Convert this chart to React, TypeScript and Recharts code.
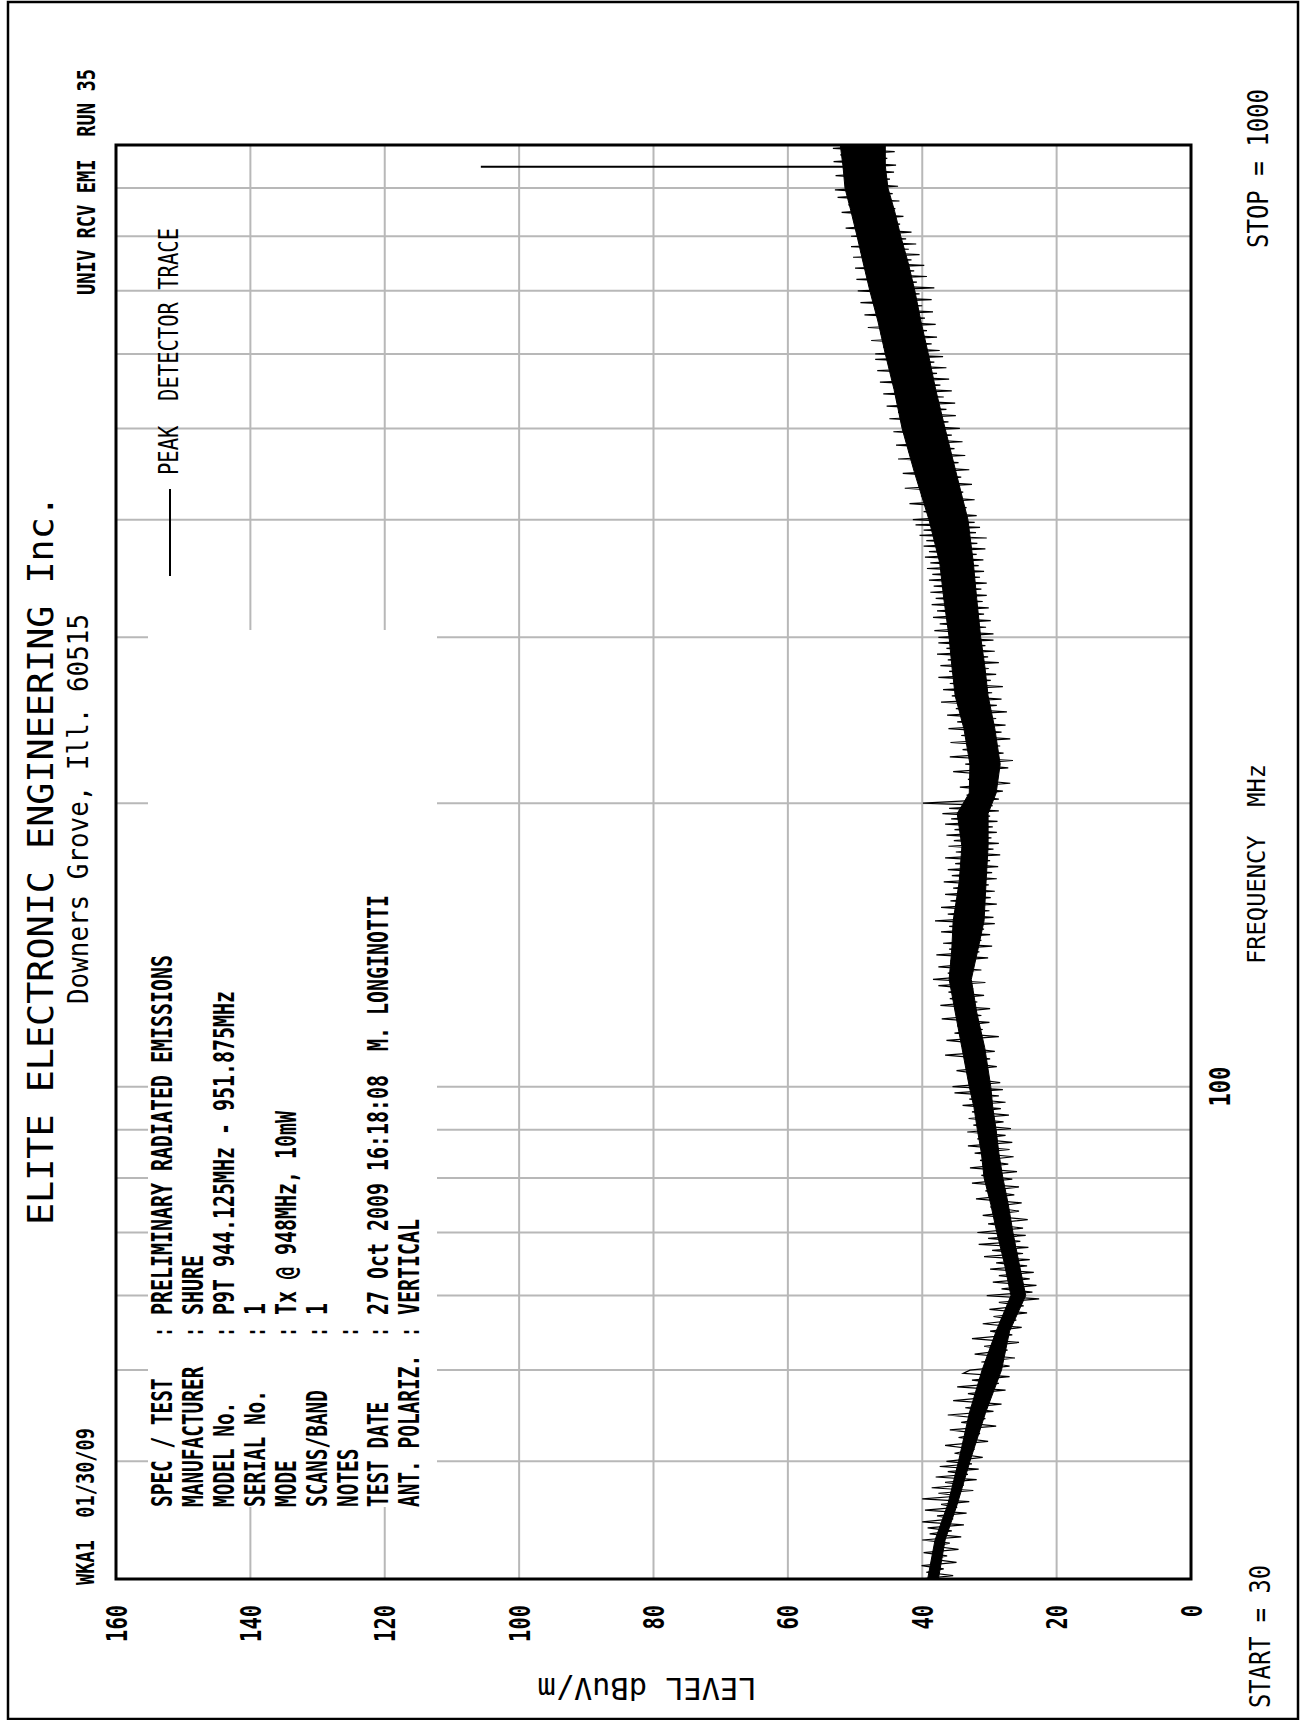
import React from 'react';
import {
  ComposedChart,
  Area,
  Line,
  XAxis,
  YAxis,
  CartesianGrid,
} from 'recharts';

// frequency (MHz) sample points and the solid core of the peak trace (dBuV/m)
const coreFreq = [30, 33, 36, 40, 45, 50, 55, 60, 65, 70, 75, 80, 85, 90, 95, 100, 110, 120, 130, 140, 150, 165, 180, 195, 205, 220, 240, 260, 280, 300, 330, 360, 400, 450, 500, 550, 600, 650, 700, 750, 800, 850, 900, 950, 1000];
const coreLow = [37.6, 36.6, 34.8, 32.9, 30.6, 28.2, 27.0, 24.6, 25.6, 26.5, 27.2, 28.0, 28.6, 29.0, 29.5, 29.8, 30.7, 31.9, 32.7, 31.7, 30.8, 30.5, 30.2, 30.2, 29.0, 28.4, 29.2, 30.2, 30.7, 31.3, 31.9, 32.4, 33.2, 35.0, 36.6, 38.0, 39.1, 40.2, 41.1, 42.1, 43.2, 44.1, 45.1, 45.5, 45.5];
const coreHigh = [39.2, 38.1, 36.2, 34.6, 33.0, 31.1, 29.0, 26.8, 27.8, 28.9, 29.8, 30.8, 31.2, 31.8, 32.3, 33.0, 34.1, 35.1, 36.0, 35.6, 35.4, 34.5, 34.1, 34.8, 33.0, 32.9, 33.8, 35.1, 35.6, 36.0, 36.8, 37.4, 39.0, 41.2, 43.0, 44.2, 45.5, 46.6, 47.8, 48.8, 49.7, 50.6, 51.5, 51.8, 52.2];

// sweep excursions read band by band (alternating peak / dip), dBuV/m
const band30 = [40.3, 35.4, 39.4, 36.8, 40.1, 34.9, 38.6, 36.3, 39.8, 34.6, 38.2, 35.9, 40.0, 34.2, 38.9, 35.6, 39.2, 33.8, 40.0, 35.4,
  37.8, 33.4, 39.6, 34.8, 37.2, 33.0, 40.0, 34.4, 37.6, 32.4, 38.6, 33.8, 36.6, 31.9, 38.0, 33.2, 36.2, 31.6, 37.4, 32.6];
const band40 = [36.4, 31.0, 35.2, 32.2, 36.6, 30.2, 34.6, 31.4, 35.9, 29.0, 34.2, 30.6, 36.2, 29.4, 33.6, 28.2, 35.4, 29.8, 33.2, 27.6,
  34.8, 28.6, 32.6, 27.0, 33.9];
const band50 = [32.9, 27.0, 31.2, 26.2, 32.2, 27.3, 30.8, 25.6, 32.6, 26.6, 29.9, 25.2, 31.0, 26.0, 29.4, 24.4, 30.0, 24.9, 28.6, 22.6,
  30.4, 23.6, 28.2, 23.0, 29.5, 24.0, 28.6, 23.4, 29.9, 24.4, 29.0, 24.0, 30.8, 25.0, 29.6, 24.2, 31.6, 25.4, 30.2, 24.6];
const band70 = [31.8, 25.0, 30.2, 24.3, 31.0, 25.6, 29.9, 25.2, 32.0, 26.3, 30.6, 25.6, 32.6, 26.6, 31.2, 25.9, 32.9, 27.2, 31.4, 26.4,
  32.2, 27.0, 33.2, 26.6, 31.8, 27.6, 33.3, 26.8, 32.4, 27.9, 33.1, 27.1, 32.6, 28.3, 34.0, 27.6, 33.0, 28.6, 35.2, 28.0];
const band100 = [35.5, 28.4, 33.2, 30.6, 34.9, 28.9, 33.4, 29.9, 36.6, 29.2, 34.0, 30.9, 36.4, 28.6, 35.2, 31.0, 34.8, 30.0, 37.1, 31.2,
  35.0, 29.9, 37.3, 31.8, 35.9, 30.8, 36.1, 32.4, 37.6, 30.6, 38.4, 32.6, 36.2, 31.2, 37.6, 32.8, 35.8, 30.2, 37.9, 31.5,
  36.0, 29.6, 36.9, 31.2, 35.4, 29.9, 37.2, 30.8, 36.0, 29.2];
const band150 = [38.1, 29.4, 36.2, 30.0, 37.2, 28.9, 35.8, 29.8, 36.6, 29.2, 35.4, 30.1, 36.8, 28.9, 35.6, 29.6, 36.2, 28.7, 35.1, 29.9,
  36.6, 28.4, 35.0, 29.4, 36.1, 28.6, 35.3, 29.7, 36.4, 28.9, 35.2, 29.5, 36.6, 28.8, 35.7, 29.9, 37.0, 28.6, 36.0, 29.5];
const band200 = [39.9, 28.6, 33.4, 28.0, 34.4, 26.9, 33.2, 28.6, 35.4, 27.2, 33.6, 26.5, 35.9, 27.9, 34.0, 28.4, 35.8, 26.9, 34.2, 28.2,
  36.1, 27.6, 34.8, 29.0, 36.3, 27.4, 35.0, 28.9, 37.2, 28.2, 35.6, 29.6, 36.9, 28.0, 35.9, 29.8, 37.6, 29.0, 36.0, 30.1,
  37.3, 28.6, 36.2, 30.2, 37.8, 29.2, 36.4, 30.6, 37.6, 29.4];
const band300 = [37.6, 29.4, 38.2, 30.5, 37.4, 29.8, 38.4, 30.8, 37.8, 30.1, 38.6, 31.0, 38.0, 30.4, 38.8, 31.2, 38.3, 30.4, 39.0, 31.4,
  38.5, 30.8, 39.3, 31.6, 38.8, 30.9, 39.6, 31.9, 39.0, 30.6, 39.8, 31.8, 39.4, 30.4, 40.4, 32.0, 39.8, 31.4, 41.0, 32.2];
const band400 = [41.4, 31.9, 39.8, 33.4, 41.9, 32.2, 40.2, 33.9, 42.6, 32.6, 40.6, 34.2, 42.9, 33.0, 41.3, 34.6, 43.6, 33.6, 42.0, 35.2,
  43.9, 34.0, 42.4, 35.6, 44.3, 34.4, 42.9, 36.1, 44.9, 35.0, 43.6, 36.4, 45.3, 35.1, 43.9, 36.8, 45.8, 35.6, 44.2, 37.3,
  46.3, 36.0, 44.6, 37.8, 46.7, 36.4, 45.0, 38.2, 47.0, 36.9];
const band600 = [47.0, 37.4, 45.8, 38.6, 47.6, 37.8, 46.2, 39.3, 48.1, 38.0, 46.6, 39.6, 48.6, 38.4, 47.0, 40.0, 49.2, 38.6, 47.5, 40.4,
  49.6, 38.2, 48.0, 40.8, 49.8, 39.3, 48.4, 41.2, 50.0, 39.7, 48.8, 41.6, 50.3, 40.4, 49.2, 42.0, 50.6, 40.9, 49.5, 42.4];
const band800 = [50.6, 41.6, 51.4, 43.3, 50.2, 42.8, 52.0, 44.0, 51.0, 43.4, 52.6, 44.4, 53.0, 43.6, 51.6, 44.8, 52.9, 44.2, 51.8, 43.9,
  53.2, 45.2, 52.2, 44.1, 53.3, 45.0];

// [start MHz, sweep step MHz, levels]
const bands: [number, number, number[]][] = [
  [30, 0.25, band30],
  [40, 0.4, band40],
  [50, 0.5, band50],
  [70, 0.75, band70],
  [100, 1, band100],
  [150, 1.25, band150],
  [200, 2, band200],
  [300, 2.5, band300],
  [400, 4, band400],
  [600, 5, band600],
  [800, 8, band800],
];

// transmitter carrier (Tx @ 948MHz)
const txFreq = 948;
const txLevels = [49.0, 105.7];

const levelTicks = [0, 20, 40, 60, 80, 100, 120, 140, 160];
const freqGrid = [30, 40, 50, 60, 70, 80, 90, 100, 200, 300, 400, 500, 600, 700, 800, 900, 1000];
const freqLabels = [100];

const infoLabels = ['SPEC / TEST', 'MANUFACTURER', 'MODEL No.', 'SERIAL No.', 'MODE', 'SCANS/BAND', 'NOTES', 'TEST DATE', 'ANT. POLARIZ.'];
const infoValues = ['PRELIMINARY RADIATED EMISSIONS', 'SHURE', 'P9T 944.125MHz - 951.875MHz', '1', 'Tx @ 948MHz, 10mW', '1', '', '27 Oct 2009 16:18:08  M. LONGINOTTI', 'VERTICAL'];

const coreData = coreFreq.map((f, i) => ({ freq: f, lo: coreLow[i], hi: coreHigh[i] }));
const sweepData = bands.flatMap(([start, step, levels]) =>
  levels.map((v, i) => ({ freq: Math.min(1000, start + i * step), level: v }))
);
const txData = txLevels.map((v) => ({ freq: txFreq, level: v }));

const FONT = "'DejaVu Sans Mono', monospace";

// chart is laid out unrotated (1720 x 1301) and turned -90deg onto the page
const W = 1720;
const H = 1301;

const Txt = ({ x, y, s, size, len, weight = 'normal', anchor = 'start', transform }: any) => (
  <text
    x={x}
    y={y}
    fontFamily={FONT}
    fontSize={size}
    fontWeight={weight}
    textAnchor={anchor}
    textLength={len}
    lengthAdjust="spacingAndGlyphs"
    fill="#000"
    transform={transform}
    style={{ whiteSpace: 'pre' }}
  >
    {s}
  </text>
);

const LevelTick = (props: any) => {
  const { y, payload } = props;
  const s = String(payload.value);
  return <Txt x={115} y={y + 10.5} s={s} size={29} len={s.length * 12.3} weight="bold" anchor="end" />;
};

const FreqTick = (props: any) => {
  const { x, payload } = props;
  if (!freqLabels.includes(payload.value)) return <g />;
  const s = String(payload.value);
  return <Txt x={x} y={1230} s={s} size={28} len={s.length * 13.3} weight="bold" anchor="middle" />;
};

const App: React.FC = () => {
  const rowY = [172, 203, 234, 265, 296, 327, 358, 388, 419];
  return (
    <div style={{ position: 'absolute', left: 0, top: 0, width: 1301, height: 1720, background: '#fff', overflow: 'hidden' }}>
      <div
        style={{
          position: 'absolute',
          left: 0,
          top: 0,
          width: W,
          height: H,
          transformOrigin: '0 0',
          transform: 'translate(0px, 1720px) rotate(-90deg)',
        }}
      >
        <ComposedChart width={W} height={H} data={coreData} margin={{ top: 116, right: 145, bottom: 0, left: 0 }}>
          <CartesianGrid stroke="#b8b8b8" strokeWidth={2} />
          <XAxis
            dataKey="freq"
            type="number"
            scale="log"
            domain={[30, 1000]}
            ticks={freqGrid}
            allowDataOverflow
            axisLine={false}
            tickLine={false}
            height={110}
            tick={<FreqTick />}
          />
          <YAxis
            type="number"
            domain={[0, 160]}
            ticks={levelTicks}
            axisLine={false}
            tickLine={false}
            width={141}
            tick={<LevelTick />}
          />
          <Area
            dataKey={(d: any) => [d.lo, d.hi]}
            type="linear"
            stroke="#000"
            strokeWidth={1}
            fill="#000"
            fillOpacity={1}
            isAnimationActive={false}
          />
          <Line data={sweepData} dataKey="level" type="linear" stroke="#000" strokeWidth={1.2} dot={false} isAnimationActive={false} />
          <Line data={txData} dataKey="level" type="linear" stroke="#000" strokeWidth={2} dot={false} isAnimationActive={false} />
        </ComposedChart>

        <svg width={W} height={H} style={{ position: 'absolute', left: 0, top: 0, pointerEvents: 'none' }}>
          {/* page border and plot frame */}
          <rect x={1} y={8} width={1717} height={1290} fill="none" stroke="#000" strokeWidth={2.5} />
          <rect x={141} y={116} width={1434} height={1075} fill="none" stroke="#000" strokeWidth={3} />

          {/* header */}
          <Txt x={495} y={53} s="ELITE ELECTRONIC ENGINEERING Inc." size={36} len={730} />
          <Txt x={716} y={88} s="Downers Grove, Ill. 60515" size={28} len={390} />
          <Txt x={135} y={94} s="WKA1  01/30/09" size={25} len={157} weight="bold" />
          <Txt x={1651} y={95} s="UNIV RCV EMI  RUN 35" size={25} len={226} weight="bold" anchor="end" />

          {/* test info block */}
          <rect x={213} y={148} width={877} height={289} fill="#fff" />
          {infoLabels.map((l, i) => (
            <Txt key={'l' + i} x={213} y={rowY[i]} s={l} size={28} len={l.length * 11.7} weight="bold" />
          ))}
          {infoLabels.map((l, i) => (
            <Txt key={'c' + i} x={388} y={rowY[i]} s=":" size={28} len={10} weight="bold" anchor="middle" />
          ))}
          {infoValues.map((v, i) =>
            v ? <Txt key={'v' + i} x={405} y={rowY[i]} s={v} size={28} len={v.length * 12} weight="bold" /> : null
          )}

          {/* legend */}
          <line x1={1144} x2={1231} y1={170} y2={170} stroke="#000" strokeWidth={2} />
          <Txt x={1245} y={178} s="PEAK  DETECTOR TRACE" size={27} len={247} />

          {/* axis titles */}
          <Txt x={756} y={1265} s="FREQUENCY  MHz" size={24} len={200} />
          <Txt x={12} y={1270} s="START = 30" size={29} len={143} />
          <Txt x={1631} y={1268} s="STOP = 1000" size={28} len={159} anchor="end" />
          <Txt x={42} y={647} s="LEVEL dBuV/m" size={30} len={219} anchor="middle" transform="rotate(-90 42 647)" />
        </svg>
      </div>
    </div>
  );
};

export default App;
